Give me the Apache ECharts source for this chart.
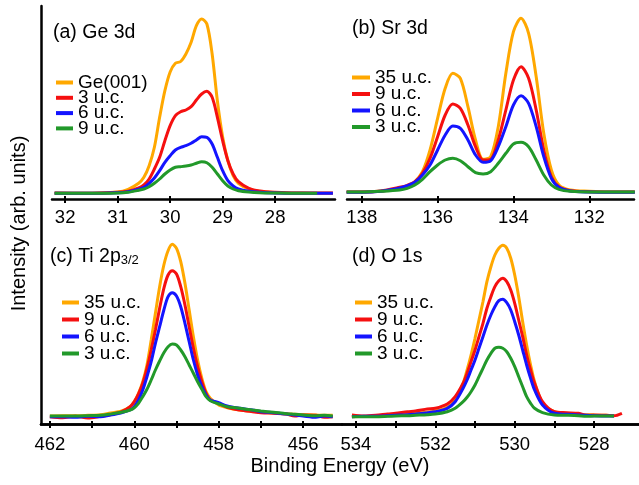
<!DOCTYPE html>
<html>
<head>
<meta charset="utf-8">
<script src="https://cdn.jsdelivr.net/npm/echarts@6/dist/echarts.min.js"></script>
<style>
html, body { margin: 0; padding: 0; background: #fff; }
#xps { width: 639px; height: 485px; }
</style>
</head>
<body>
<div id="xps"></div>
<script>
// (a) Ge 3d
var geEnergy = [32.2, 31.6, 31.0, 30.8, 30.6, 30.5, 30.4, 30.3, 30.2, 30.1, 30.0, 29.9, 29.8, 29.7, 29.6, 29.5, 29.4, 29.3, 29.2, 29.1, 29.0, 28.9, 28.8, 28.7, 28.5, 28.3, 28.0, 27.6, 27.2, 26.9];
var geBulk = [5.7, 5.7, 7, 9.7, 15.7, 21.7, 33.3, 51.7, 81.7, 108.3, 127, 135.7, 137.5, 145, 156.7, 173.3, 180, 175, 145, 98, 62, 38.3, 23.3, 15.7, 10, 7.7, 6.3, 6, 5.7, 5.7];
var ge3uc = [6, 5.7, 6.7, 7.7, 11, 14, 20, 30, 41.7, 58.3, 73.3, 83.3, 87.3, 89, 92.3, 99, 105, 107.7, 101.7, 81.7, 58.3, 38.3, 25, 17.3, 10.7, 8, 6.7, 6, 6, 6];
var ge6uc = [5.7, 5.7, 6.3, 7.3, 9.7, 11.7, 15.7, 21, 28.3, 36.7, 43.3, 49, 51.7, 53.3, 55.7, 59, 62.3, 61.7, 55, 41.7, 28.3, 18.3, 13, 10, 7.7, 6.7, 6, 5.7, 5.7, 5.7];
var ge9uc = [5.7, 5.7, 6, 6.7, 8.7, 10, 12.3, 15.7, 20, 25, 29, 31.7, 32.3, 33, 34, 35.7, 37.3, 36.3, 31.7, 25, 18.3, 13, 10, 8.3, 7, 6.3, 6, 5.7, 5.7, null];
var geTicks = [32, 31, 30, 29, 28];

// (b) Sr 3d
var srEnergy = [138.4, 138.0, 137.5, 137.0, 136.8, 136.6, 136.4, 136.2, 136.0, 135.8, 135.6, 135.4, 135.2, 135.0, 134.8, 134.6, 134.4, 134.2, 134.0, 133.8, 133.6, 133.4, 133.2, 133.0, 132.8, 132.5, 132.0, 131.5, 131.0, 130.8];
var sr35uc = [7, 7, 7.7, 10.3, 12.3, 17.3, 27.3, 49, 80.7, 110.7, 125.7, 120.7, 92.3, 59, 39.7, 42.3, 72.3, 125.7, 167.3, 180.7, 165.7, 122.3, 65.7, 29, 14, 9, 7.7, 7, 7, 7];
var sr9uc = [7, 7, 8, 11.7, 13.7, 17.3, 25.7, 40.7, 62.3, 84, 95, 90.7, 74, 52.3, 39, 39.7, 59, 89, 119, 132.3, 120.7, 89, 49, 22.3, 12.3, 8.3, 7.3, 7, 7, 7];
var sr6uc = [6.7, 6.7, 7.7, 11, 13.3, 16.7, 24, 34, 49, 64, 73, 70.7, 59, 44, 36.7, 38.3, 52.3, 72.3, 94, 103.3, 95.7, 72.3, 42.3, 20.7, 11.7, 8, 7, 6.7, 6.7, 6.7];
var sr3uc = [7, 7, 7.7, 9, 10.7, 14, 19.7, 27.3, 34, 39, 40.7, 38.3, 32.3, 26.3, 25, 27.3, 35.7, 45.7, 55, 56.7, 52.3, 39, 24, 14, 9.7, 7.7, 7, 7, 7, 7];
var srTicks = [138, 136, 134, 132];

// (c) Ti 2p3/2
var tiEnergy = [462.0, 461.7, 461.4, 461.1, 460.8, 460.6, 460.3, 460.1, 460.0, 459.9, 459.8, 459.7, 459.6, 459.5, 459.4, 459.3, 459.2, 459.1, 459.0, 458.9, 458.8, 458.7, 458.6, 458.5, 458.4, 458.3, 458.2, 458.0, 457.8, 457.5, 457.2, 457.0, 456.7, 456.4, 456.2, 456.0, 455.7, 455.5, 455.3];
var ti35uc = [8, 8.3, 8.3, 8.7, 9.3, 10.7, 13, 17.3, 22.3, 30.7, 42.3, 59, 84, 110.7, 137.3, 159, 173.3, 179.7, 175.7, 162.3, 140.7, 114, 87.3, 64, 45.7, 32.3, 25.7, 19, 16.3, 14, 12.7, 12, 11, 10.3, 9.7, 9.3, 9, 8.7, 8.7];
var ti9uc = [7.3, 6.3, 7.7, 6, 7.7, 9, 12.3, 17.3, 22.3, 30, 40.7, 55.7, 74, 94, 115.7, 135.7, 149, 153.3, 150, 137.3, 119, 97.3, 75.7, 57.3, 42.3, 30.7, 24, 20.7, 16.7, 14, 12.3, 11.3, 10.7, 10, 8, 9, 8.7, 6.7, 7.3];
var ti6uc = [7.3, 7.3, 6.7, 7.7, 7.3, 8.7, 11.3, 14, 17.3, 24, 34, 47.3, 62.3, 80.7, 97.3, 114, 127.3, 131.3, 128, 117.3, 100.7, 82.3, 64, 49, 37.3, 29, 24, 21.3, 18, 15.7, 14, 12.3, 11.3, 10, 9, 8, 6.7, 8, 7.3];
var ti3uc = [8, 8, 8, 8.3, 8.7, 9.7, 11.7, 14, 16.3, 20.7, 27.3, 34.7, 44, 54, 63, 71.3, 77.3, 80, 79, 74, 67.3, 59, 50.7, 42.3, 34.7, 27.3, 23.3, 20, 17.3, 15.7, 14, 13, 11.7, 10.3, 9.7, 9, 8.3, 8.7, 8];
var tiTicks = [462, 461, 460, 459, 458, 457, 456];
var tiLabels = [462, 460, 458, 456];

// (d) O 1s
var oEnergy = [534.1, 533.8, 533.5, 533.2, 533.0, 532.7, 532.5, 532.2, 532.0, 531.7, 531.5, 531.3, 531.2, 531.1, 531.0, 530.9, 530.8, 530.7, 530.6, 530.5, 530.4, 530.3, 530.2, 530.1, 530.0, 529.9, 529.8, 529.7, 529.6, 529.5, 529.3, 529.0, 528.7, 528.4, 528.2, 528.0, 527.7, 527.5, 527.3];
var o35uc = [7.3, 7.7, 8, 8.7, 9, 10, 10.7, 11.7, 13, 16.7, 24, 40.7, 54, 69, 85.7, 104, 122.3, 142.3, 157.3, 169, 175.7, 178.7, 175.7, 165.7, 149, 127.3, 102.3, 79, 59, 42.3, 20.7, 12.3, 10.7, 9.7, 9.3, 9, 8.7, 8.3, null];
var o9uc = [9, 8, 8.7, 10, 10.7, 12.3, 13, 15, 15.7, 20, 27.3, 40.7, 50.7, 62.3, 74, 87.3, 100.7, 115.7, 127.3, 137.3, 143.3, 145.7, 142.3, 134, 120.7, 104, 87.3, 69, 54, 40.7, 22.3, 12.3, 11.3, 10.7, 8.7, 9, 8.7, 8.3, 10.7];
var o6uc = [7.3, 7.7, 7.7, 8.3, 8.7, 9.3, 10, 11.3, 12.3, 15.7, 22.3, 35.7, 44, 54, 64, 75.7, 87.3, 99, 109, 117.3, 123.3, 124.7, 121.3, 114, 102.3, 89, 74, 59, 45.7, 34, 19, 10.7, 9.7, 9, 8.7, 8.3, 8, 8, null];
var o3uc = [7.3, 7.3, 7.3, 7.7, 8, 8.3, 8.7, 9.3, 10, 12.3, 15.7, 22.3, 26.7, 32.3, 39, 47.3, 55.7, 64, 70.7, 75.7, 76.7, 75.7, 72.3, 65.7, 57.3, 47.3, 37.3, 27.3, 20.7, 15.7, 11.3, 9, 8.7, 8.3, 7.7, 8, 8, 8, null];
var oTicks = [534, 533, 532, 531, 530, 529, 528];
var oLabels = [534, 532, 530, 528];

var ORANGE = '#FFA800', RED = '#F51010', BLUE = '#1414FF', GREEN = '#22992A';
var FONT = 'Liberation Sans, Arial, sans-serif';

function pairs(xs, ys) {
    return xs.map(function (x, i) { return [x, ys[i]]; });
}

// main axis (line, outer ticks, labels) + a second one for the inner half of each tick
function energyAxes(grid, min, max, ticks, labels, margin) {
    return [{
        type: 'value', gridIndex: grid, position: 'bottom', inverse: true,
        min: min, max: max,
        axisLine: { lineStyle: { color: '#000', width: 2.5 } },
        axisTick: { length: 4, lineStyle: { color: '#000', width: 2 }, customValues: ticks },
        axisLabel: { color: '#000', fontSize: 18.5, fontFamily: FONT, margin: margin, customValues: labels },
        splitLine: { show: false }
    }, {
        type: 'value', gridIndex: grid, position: 'bottom', inverse: true,
        min: min, max: max,
        axisLine: { show: false },
        axisTick: { inside: true, length: 3, lineStyle: { color: '#000', width: 2 }, customValues: ticks },
        axisLabel: { show: false },
        splitLine: { show: false }
    }];
}

function panelLegend(names, left, top, gap, w) {
    return {
        data: names, orient: 'vertical', left: left, top: top, padding: 0,
        icon: 'rect', itemWidth: w, itemHeight: 4, itemGap: gap, selectedMode: false,
        formatter: function (name) { return name.split('#')[0]; },
        textStyle: { color: '#000', fontSize: 19, fontFamily: FONT }
    };
}

function spectrum(name, color, xs, ys, panel) {
    return {
        name: name, type: 'line', xAxisIndex: panel * 2, yAxisIndex: panel,
        data: pairs(xs, ys), smooth: 0.3, showSymbol: false, silent: true,
        lineStyle: { color: color, width: 3 }, itemStyle: { color: color }
    };
}

function init() {
    var chart = echarts.init(document.getElementById('xps'));
    var titleStyle = { color: '#000', fontSize: 19.5, fontWeight: 'normal', fontFamily: FONT };
    var hidden = { axisLine: { show: false }, axisTick: { show: false }, axisLabel: { show: false }, splitLine: { show: false } };
    var xAxes = [].concat(
        energyAxes(0, 26.86, 32.25, geTicks, geTicks, 9),
        energyAxes(1, 130.82, 138.39, srTicks, srTicks, 9),
        energyAxes(2, 455.08, 462.21, tiTicks, tiLabels, 11),
        energyAxes(3, 526.87, 534.35, oTicks, oLabels, 11)
    );
    // frame: top border, shared x name
    xAxes.push({
        type: 'value', gridIndex: 4, position: 'top', min: 0, max: 1,
        axisLine: { lineStyle: { color: '#000', width: 2.5 } },
        axisTick: { show: false }, axisLabel: { show: false }, splitLine: { show: false }
    }, Object.assign({
        type: 'value', gridIndex: 4, position: 'bottom', min: 0, max: 1,
        name: 'Binding Energy (eV)', nameLocation: 'middle', nameGap: 32,
        nameTextStyle: { color: '#000', fontSize: 20, fontFamily: FONT }
    }, hidden), Object.assign({ type: 'value', gridIndex: 5, min: 0, max: 1 }, hidden));

    var yAxes = [0, 1, 2, 3].map(function (i) {
        return Object.assign({ type: 'value', gridIndex: i, min: 0, max: i < 2 ? 193 : 214 }, hidden);
    });
    yAxes.push({
        type: 'value', gridIndex: 4, min: 0, max: 1,
        axisLine: { show: true, lineStyle: { color: '#000', width: 2.5 } },
        axisTick: { show: false }, axisLabel: { show: false }, splitLine: { show: false }
    }, Object.assign({
        type: 'value', gridIndex: 5, min: 0, max: 1,
        name: 'Intensity (arb. units)', nameLocation: 'middle', nameGap: 12,
        nameTextStyle: { color: '#000', fontSize: 20, fontFamily: FONT }
    }, hidden));

    var option = {
        animation: false,
        backgroundColor: '#fff',
        title: [
            { text: '(a) Ge 3d', left: 53, top: 23, padding: 0, textStyle: titleStyle },
            { text: '(b) Sr 3d', left: 352, top: 19, padding: 0, textStyle: titleStyle },
            {
                text: '(c) Ti 2p{sub|3/2}', left: 50, top: 246, padding: 0,
                textStyle: {
                    color: '#000', fontSize: 19.5, fontWeight: 'normal', fontFamily: FONT,
                    rich: { sub: { fontSize: 13, fontWeight: 'normal', fontFamily: FONT, color: '#000', padding: [8, 0, 0, 0] } }
                }
            },
            { text: '(d) O 1s', left: 352, top: 247, padding: 0, textStyle: titleStyle }
        ],
        legend: [
            panelLegend(['Ge(001)', '3 u.c.', '6 u.c.', '9 u.c.'], 56, 73, -3.7, 17),
            panelLegend(['35 u.c.#b', '9 u.c.#b', '6 u.c.#b', '3 u.c.#b'], 352, 68, -2.5, 18),
            panelLegend(['35 u.c.#c', '9 u.c.#c', '6 u.c.#c', '3 u.c.#c'], 62, 293, -2, 17),
            panelLegend(['35 u.c.#d', '9 u.c.#d', '6 u.c.#d', '3 u.c.#d'], 355, 293, -2, 17)
        ],
        grid: [
            { left: 52, right: 304, top: 6, bottom: 286 },
            { left: 347, right: 5, top: 6, bottom: 286 },
            { left: 41, right: 297, top: 210, bottom: 61 },
            { left: 342, right: 0, top: 210, bottom: 61 },
            { left: 41, right: 0, top: 6, bottom: 61 },
            { left: 41, right: 0, top: 23, bottom: 61 }
        ],
        xAxis: xAxes,
        yAxis: yAxes,
        series: [
            spectrum('Ge(001)', ORANGE, geEnergy, geBulk, 0),
            spectrum('3 u.c.', RED, geEnergy, ge3uc, 0),
            spectrum('6 u.c.', BLUE, geEnergy, ge6uc, 0),
            spectrum('9 u.c.', GREEN, geEnergy, ge9uc, 0),
            spectrum('35 u.c.#b', ORANGE, srEnergy, sr35uc, 1),
            spectrum('9 u.c.#b', RED, srEnergy, sr9uc, 1),
            spectrum('6 u.c.#b', BLUE, srEnergy, sr6uc, 1),
            spectrum('3 u.c.#b', GREEN, srEnergy, sr3uc, 1),
            spectrum('35 u.c.#c', ORANGE, tiEnergy, ti35uc, 2),
            spectrum('9 u.c.#c', RED, tiEnergy, ti9uc, 2),
            spectrum('6 u.c.#c', BLUE, tiEnergy, ti6uc, 2),
            spectrum('3 u.c.#c', GREEN, tiEnergy, ti3uc, 2),
            spectrum('35 u.c.#d', ORANGE, oEnergy, o35uc, 3),
            spectrum('9 u.c.#d', RED, oEnergy, o9uc, 3),
            spectrum('6 u.c.#d', BLUE, oEnergy, o6uc, 3),
            spectrum('3 u.c.#d', GREEN, oEnergy, o3uc, 3)
        ]
    };
    chart.setOption(option);
    window.addEventListener('resize', chart.resize);
}

init();
</script>
</body>
</html>
